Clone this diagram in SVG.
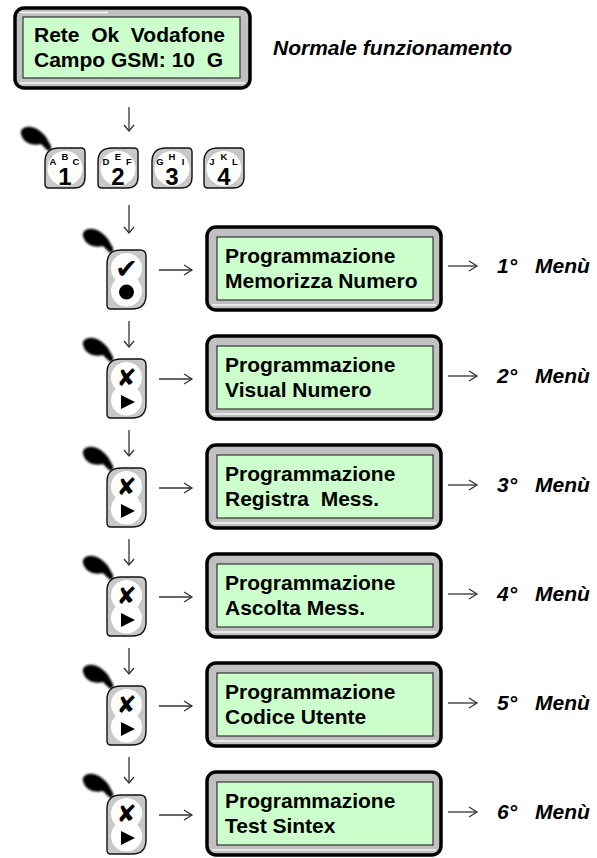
<svg xmlns="http://www.w3.org/2000/svg" xmlns:xlink="http://www.w3.org/1999/xlink" width="597" height="858" viewBox="0 0 597 858">
<style>
.frame{fill:#c0c0c0;stroke:#000;stroke-width:3.5}
.lcd{fill:#ccffcc;stroke:#333;stroke-width:1.2}
.hl{stroke:#f4f4f4;stroke-width:1.5;fill:none}
.t{font-family:"Liberation Sans",Arial,sans-serif;font-weight:bold;font-size:21px;fill:#000}
.ti{font-family:"Liberation Sans",Arial,sans-serif;font-weight:bold;font-style:italic;font-size:21px;fill:#000}
.kd{font-family:"Liberation Sans",Arial,sans-serif;font-weight:bold;font-size:24px;fill:#000;text-anchor:middle}
.kl{font-family:"Liberation Sans",Arial,sans-serif;font-weight:bold;font-size:9.5px;fill:#000;text-anchor:middle}
.ck{font-family:"DejaVu Sans",sans-serif;font-weight:bold;font-size:27px;fill:#000;text-anchor:middle}
.sym{font-family:"DejaVu Sans",sans-serif;font-weight:bold;font-size:24px;fill:#000;text-anchor:middle}
.key{fill:#c8c8c8;stroke:#111;stroke-width:1.4}
.ln{stroke:#333;stroke-width:1.3;fill:none}
</style>
<defs>
<filter id="blur" x="-30%" y="-30%" width="160%" height="160%"><feGaussianBlur stdDeviation="0.8"/></filter>
<path id="hand" filter="url(#blur)" fill="#000" d="M -24,-14 C -25,-19 -20,-22 -14,-21 C -8,-20 -3,-16 1,-11 L 6,-2 C 7,1 5,4 2,2 L -4,-4 C -8,-3 -13,-3 -17,-5 C -21,-7 -23,-10 -24,-14 Z"/>
<g id="dkey">
<path class="key" d="M14,0 H36 Q40,0 40,4 V29 Q40,40 29,40 H4 Q0,40 0,36 V14 Q0,0 14,0 Z"/>
<circle cx="20" cy="20.5" r="17.5" fill="#fff"/>
</g>
<g id="tkey">
<path class="key" d="M14,0 H33 Q39,0 39,6 V45 Q39,59 25,59 H4 Q0,59 0,55 V14 Q0,0 14,0 Z"/>
<circle cx="19.5" cy="18.5" r="15.5" fill="#fff"/>
<circle cx="19.5" cy="41" r="15.5" fill="#fff"/>
</g>
</defs>

<g id="connectors">
<line class="ln" x1="129" y1="107" x2="129" y2="131"/><polyline class="ln" points="124,125 129,131 134,125"/>
<line class="ln" x1="129" y1="205" x2="129" y2="233"/><polyline class="ln" points="124,227 129,233 134,227"/>
<line class="ln" x1="129" y1="321" x2="129" y2="347"/><polyline class="ln" points="124,341 129,347 134,341"/>
<line class="ln" x1="129" y1="430" x2="129" y2="456"/><polyline class="ln" points="124,450 129,456 134,450"/>
<line class="ln" x1="129" y1="539" x2="129" y2="565"/><polyline class="ln" points="124,559 129,565 134,559"/>
<line class="ln" x1="129" y1="648" x2="129" y2="674"/><polyline class="ln" points="124,668 129,674 134,668"/>
<line class="ln" x1="129" y1="757" x2="129" y2="783"/><polyline class="ln" points="124,777 129,783 134,777"/>
<line class="ln" x1="159" y1="270" x2="192" y2="270"/><polyline class="ln" points="184,265 192,270 184,275"/>
<line class="ln" x1="159" y1="379" x2="192" y2="379"/><polyline class="ln" points="184,374 192,379 184,384"/>
<line class="ln" x1="159" y1="488" x2="192" y2="488"/><polyline class="ln" points="184,483 192,488 184,493"/>
<line class="ln" x1="159" y1="597" x2="192" y2="597"/><polyline class="ln" points="184,592 192,597 184,602"/>
<line class="ln" x1="159" y1="706" x2="192" y2="706"/><polyline class="ln" points="184,701 192,706 184,711"/>
<line class="ln" x1="159" y1="815" x2="192" y2="815"/><polyline class="ln" points="184,810 192,815 184,820"/>
<line class="ln" x1="448" y1="266" x2="477" y2="266"/><polyline class="ln" points="469,261 477,266 469,271"/>
<line class="ln" x1="448" y1="376" x2="477" y2="376"/><polyline class="ln" points="469,371 477,376 469,381"/>
<line class="ln" x1="448" y1="485" x2="477" y2="485"/><polyline class="ln" points="469,480 477,485 469,490"/>
<line class="ln" x1="448" y1="594" x2="477" y2="594"/><polyline class="ln" points="469,589 477,594 469,599"/>
<line class="ln" x1="448" y1="703" x2="477" y2="703"/><polyline class="ln" points="469,698 477,703 469,708"/>
<line class="ln" x1="448" y1="812" x2="477" y2="812"/><polyline class="ln" points="469,807 477,812 469,817"/>
</g>

<g id="lcd-top">
<rect class="frame" x="15" y="8" width="235" height="80" rx="9"/>
<line class="hl" x1="20" y1="12.5" x2="108" y2="12.5"/>
<line class="hl" x1="20" y1="83" x2="245" y2="83"/>
<rect class="lcd" x="23" y="17" width="217" height="61"/>
<text class="t" x="34" y="42" xml:space="preserve">Rete  Ok  Vodafone</text>
<text class="t" x="34" y="67" xml:space="preserve">Campo GSM: 10  G</text>
</g>
<g id="note"><text class="ti" x="273" y="55">Normale funzionamento</text></g>

<g id="keys">
<use xlink:href="#hand" transform="translate(45,148)"/>
<use xlink:href="#dkey" transform="translate(45,148)"/>
<text class="kd" x="65" y="185">1</text>
<text class="kl" x="53" y="165">A</text><text class="kl" x="65" y="160">B</text><text class="kl" x="76" y="165">C</text>
<use xlink:href="#dkey" transform="translate(98,148)"/>
<text class="kd" x="118" y="185">2</text>
<text class="kl" x="106" y="165">D</text><text class="kl" x="118" y="160">E</text><text class="kl" x="129" y="165">F</text>
<use xlink:href="#dkey" transform="translate(152,148)"/>
<text class="kd" x="172" y="185">3</text>
<text class="kl" x="160" y="165">G</text><text class="kl" x="172" y="160">H</text><text class="kl" x="183" y="165">I</text>
<use xlink:href="#dkey" transform="translate(204,148)"/>
<text class="kd" x="224" y="185">4</text>
<text class="kl" x="212" y="165">J</text><text class="kl" x="224" y="160">K</text><text class="kl" x="235" y="165">L</text>
</g>

<g id="row1">
<use xlink:href="#hand" transform="translate(107,250)"/>
<use xlink:href="#tkey" transform="translate(107,250)"/>
<text class="ck" x="126.5" y="278">✔</text>
<circle cx="126.5" cy="292" r="7.5"/>
<rect class="frame" x="207" y="227" width="234" height="83" rx="9"/>
<line class="hl" x1="212" y1="305" x2="436" y2="305"/>
<rect class="lcd" x="217" y="237" width="216" height="63"/>
<text class="t" x="225" y="263">Programmazione</text>
<text class="t" x="225" y="288">Memorizza Numero</text>
<text class="ti" x="497" y="273">1° <tspan x="535">Menù</tspan></text>
</g>

<g id="row2">
<use xlink:href="#hand" transform="translate(107,359)"/>
<use xlink:href="#tkey" transform="translate(107,359)"/>
<text class="sym" x="126.5" y="386">✘</text>
<polygon points="121,395 135,402 121,409"/>
<rect class="frame" x="207" y="336" width="234" height="83" rx="9"/>
<line class="hl" x1="212" y1="414" x2="436" y2="414"/>
<rect class="lcd" x="217" y="346" width="216" height="63"/>
<text class="t" x="225" y="372">Programmazione</text>
<text class="t" x="225" y="397">Visual Numero</text>
<text class="ti" x="497" y="383">2° <tspan x="535">Menù</tspan></text>
</g>

<g id="row3">
<use xlink:href="#hand" transform="translate(107,468)"/>
<use xlink:href="#tkey" transform="translate(107,468)"/>
<text class="sym" x="126.5" y="495">✘</text>
<polygon points="121,504 135,511 121,518"/>
<rect class="frame" x="207" y="445" width="234" height="83" rx="9"/>
<line class="hl" x1="212" y1="523" x2="436" y2="523"/>
<rect class="lcd" x="217" y="455" width="216" height="63"/>
<text class="t" x="225" y="481">Programmazione</text>
<text class="t" x="225" y="506" xml:space="preserve">Registra  Mess.</text>
<text class="ti" x="497" y="492">3° <tspan x="535">Menù</tspan></text>
</g>

<g id="row4">
<use xlink:href="#hand" transform="translate(107,577)"/>
<use xlink:href="#tkey" transform="translate(107,577)"/>
<text class="sym" x="126.5" y="604">✘</text>
<polygon points="121,613 135,620 121,627"/>
<rect class="frame" x="207" y="554" width="234" height="83" rx="9"/>
<line class="hl" x1="212" y1="632" x2="436" y2="632"/>
<rect class="lcd" x="217" y="564" width="216" height="63"/>
<text class="t" x="225" y="590">Programmazione</text>
<text class="t" x="225" y="615">Ascolta Mess.</text>
<text class="ti" x="497" y="601">4° <tspan x="535">Menù</tspan></text>
</g>

<g id="row5">
<use xlink:href="#hand" transform="translate(107,686)"/>
<use xlink:href="#tkey" transform="translate(107,686)"/>
<text class="sym" x="126.5" y="713">✘</text>
<polygon points="121,722 135,729 121,736"/>
<rect class="frame" x="207" y="663" width="234" height="83" rx="9"/>
<line class="hl" x1="212" y1="741" x2="436" y2="741"/>
<rect class="lcd" x="217" y="673" width="216" height="63"/>
<text class="t" x="225" y="699">Programmazione</text>
<text class="t" x="225" y="724">Codice Utente</text>
<text class="ti" x="497" y="710">5° <tspan x="535">Menù</tspan></text>
</g>

<g id="row6">
<use xlink:href="#hand" transform="translate(107,795)"/>
<use xlink:href="#tkey" transform="translate(107,795)"/>
<text class="sym" x="126.5" y="822">✘</text>
<polygon points="121,831 135,838 121,845"/>
<rect class="frame" x="207" y="772" width="234" height="83" rx="9"/>
<line class="hl" x1="212" y1="850" x2="436" y2="850"/>
<rect class="lcd" x="217" y="782" width="216" height="63"/>
<text class="t" x="225" y="808">Programmazione</text>
<text class="t" x="225" y="833">Test Sintex</text>
<text class="ti" x="497" y="819">6° <tspan x="535">Menù</tspan></text>
</g>
</svg>
